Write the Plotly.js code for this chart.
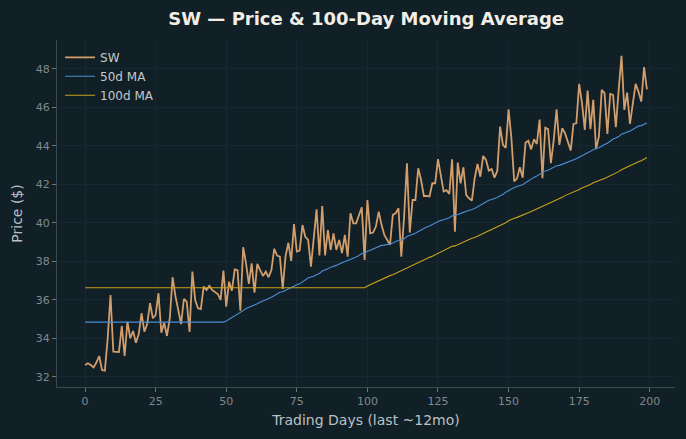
<!DOCTYPE html>
<html>
<head>
<meta charset="utf-8">
<script src="https://cdn.plot.ly/plotly-3.0.1.min.js"></script>
<style>
  html, body { margin: 0; padding: 0; background: #111f26; }
  #chart { width: 686px; height: 439px; }
</style>
</head>
<body>
<div id="chart"></div>
<script>
// Daily closing prices for SW, oldest first (trading day 0 .. 199)
const closes = [
  32.62, 32.71, 32.62, 32.50, 32.75, 33.09, 32.36, 32.33, 34.00, 36.26,
  33.32, 33.32, 33.30, 34.65, 33.09, 34.87, 34.01, 34.39, 33.78, 34.23,
  35.31, 34.35, 34.75, 35.83, 35.05, 35.22, 36.35, 34.30, 34.82, 34.13,
  35.05, 37.18, 36.20, 35.48, 34.75, 36.05, 35.91, 34.34, 37.47, 36.00,
  35.57, 35.53, 36.69, 36.52, 36.73, 36.52, 36.43, 36.31, 36.00, 37.52,
  35.65, 36.95, 36.48, 37.59, 37.55, 35.44, 38.74, 37.90, 36.83, 37.90,
  36.38, 37.87, 37.55, 37.25, 37.47, 37.18, 37.56, 38.66, 38.31, 38.25,
  36.57, 38.27, 38.97, 38.03, 39.94, 38.51, 38.56, 39.89, 39.28, 39.12,
  37.73, 39.12, 40.71, 38.31, 40.88, 38.31, 39.63, 38.60, 39.46, 38.60,
  39.12, 38.43, 39.38, 38.25, 40.50, 39.98, 39.98, 40.40, 40.81, 38.08,
  41.19, 39.46, 39.50, 39.81, 40.59, 39.90, 39.38, 39.12, 38.86, 40.42,
  40.50, 40.76, 38.25, 40.33, 43.10, 39.50, 41.19, 41.19, 42.84, 42.23,
  41.40, 41.40, 41.37, 42.06, 42.06, 43.31, 42.40, 41.63, 41.70, 41.50,
  43.30, 39.55, 43.13, 42.06, 42.89, 41.45, 41.28, 41.16, 42.32, 43.06,
  42.40, 43.48, 43.27, 42.72, 42.80, 42.35, 42.70, 45.00, 44.05, 43.90,
  45.90, 44.40, 42.15, 42.32, 42.89, 42.35, 44.17, 44.27, 43.82, 44.35,
  44.10, 45.37, 42.32, 44.95, 44.87, 43.10, 44.31, 45.90, 44.05, 44.92,
  44.66, 44.17, 43.76, 45.14, 45.17, 47.22, 46.22, 44.83, 46.87, 44.87,
  46.39, 43.83, 44.49, 46.91, 46.74, 44.62, 46.70, 46.65, 44.97, 46.91,
  48.68, 45.87, 46.77, 45.14, 46.30, 47.22, 46.82, 46.30, 48.09, 46.94
];

const days = closes.map((_, i) => i);

// Trailing simple moving average; days before the first full window
// carry the first complete window's value.
function movingAverage(values, window) {
  const out = new Array(values.length);
  let sum = 0;
  for (let i = 0; i < values.length; i++) {
    sum += values[i];
    if (i >= window) sum -= values[i - window];
    if (i >= window - 1) out[i] = sum / window;
  }
  const first = out[window - 1];
  for (let i = 0; i < window - 1; i++) out[i] = first;
  return out;
}

const ma50 = movingAverage(closes, 50);
const ma100 = movingAverage(closes, 100);

const FONT = "DejaVu Sans, Verdana, sans-serif";

const traces = [
  {
    x: days, y: closes, name: "SW", type: "scatter", mode: "lines",
    line: { color: "#d29e6c", width: 1.8 }
  },
  {
    x: days, y: ma50, name: "50d MA", type: "scatter", mode: "lines",
    line: { color: "#4a8fd6", width: 1.1 }
  },
  {
    x: days, y: ma100, name: "100d MA", type: "scatter", mode: "lines",
    line: { color: "#c9a21c", width: 1.1 }
  }
];

const axisCommon = {
  showgrid: true,
  gridcolor: "#182830",
  gridwidth: 1,
  zeroline: false,
  showline: true,
  linecolor: "#3b4a51",
  linewidth: 1,
  ticks: "outside",
  ticklen: 4,
  tickwidth: 1,
  tickcolor: "#6b777c",
  tickfont: { family: FONT, size: 11, color: "#7f8a8f" }
};

const layout = {
  width: 686,
  height: 439,
  paper_bgcolor: "#111f26",
  plot_bgcolor: "#111f26",
  margin: { l: 57, r: 11, t: 40, b: 52 },
  font: { family: FONT, color: "#c9cfd2" },
  title: {
    text: "<b>SW — Price & 100-Day Moving Average</b>",
    font: { family: FONT, size: 18, color: "#f2eee6" },
    x: 0.5338, xanchor: "center", y: 0.958, yanchor: "middle"
  },
  xaxis: Object.assign({}, axisCommon, {
    range: [-9.95, 208.95],
    tickvals: [0, 25, 50, 75, 100, 125, 150, 175, 200],
    title: { text: "Trading Days (last ~12mo)", standoff: 7,
             font: { family: FONT, size: 14, color: "#b9c1c5" } }
  }),
  yaxis: Object.assign({}, axisCommon, {
    range: [31.48, 49.5],
    tickvals: [32, 34, 36, 38, 40, 42, 44, 46, 48],
    title: { text: "Price ($)", standoff: 9,
             font: { family: FONT, size: 14, color: "#b9c1c5" } }
  }),
  legend: {
    x: 0.005, y: 0.992, xanchor: "left", yanchor: "top",
    bgcolor: "rgba(0,0,0,0)",
    font: { family: FONT, size: 12, color: "#c3c9cc" },
    itemwidth: 30, tracegroupgap: 0
  },
  showlegend: true
};

Plotly.newPlot("chart", traces, layout, { displayModeBar: false, staticPlot: true });
</script>
</body>
</html>
